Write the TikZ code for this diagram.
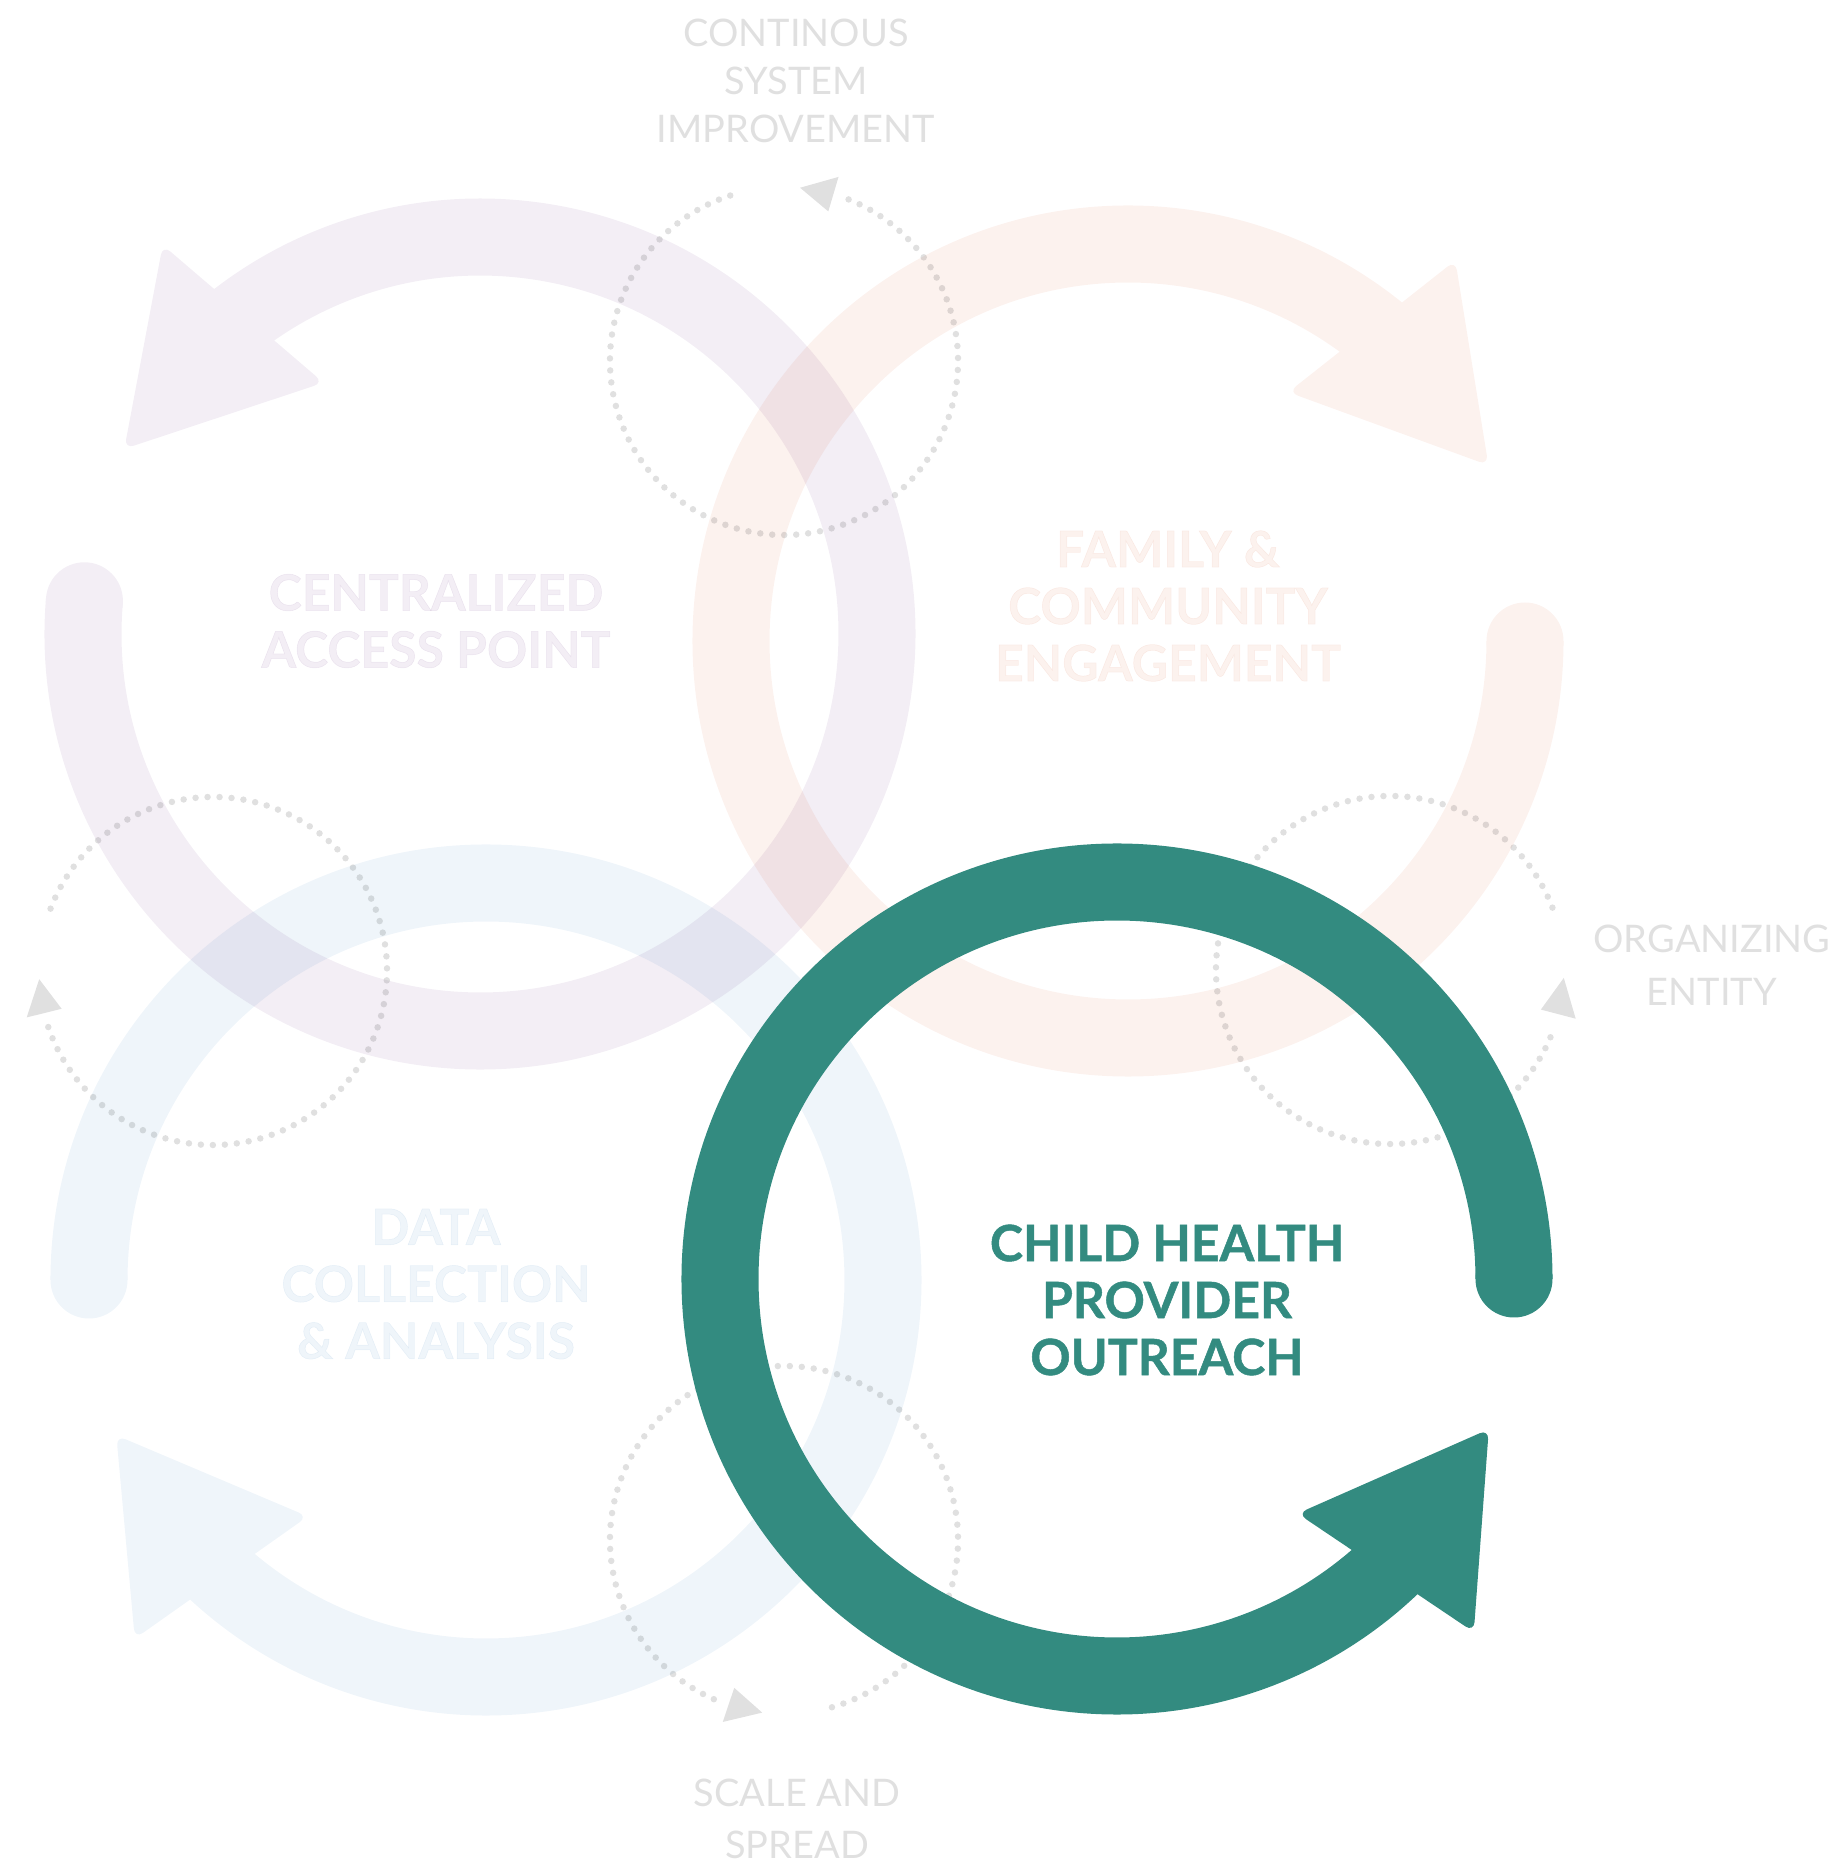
\documentclass[tikz,border=0pt]{standalone}
\usepackage{fontspec}
\setmainfont{Lato}[BoldFeatures={FakeBold=1}]
\definecolor{lilac}{HTML}{F3EEF5}
\definecolor{peach}{HTML}{FCF2EE}
\definecolor{mist}{HTML}{EFF5FA}
\definecolor{teal}{HTML}{338B80}
\definecolor{dotgray}{HTML}{E0E0E0}
\tikzset{
  band/.style={line width=0.77cm, line cap=butt},
  head/.style={rounded corners=0.1cm},
  dots/.style={dotgray, line width=0.065cm, line cap=round, dash pattern=on 0pt off 0.12cm},
  tip/.style={fill=dotgray},
  hub/.style={font=\bfseries\fontsize{14.2}{16.2}\selectfont, align=center},
  stage/.style={text=dotgray, font=\fontsize{10.8}{13.7}\selectfont, align=center}
}
\begin{document}
\begin{tikzpicture}[x=0.01cm, y=0.01cm]
\useasboundingbox (0,0) rectangle (1830,1871);
\begin{scope}[blend mode=multiply]
  \begin{scope}[shift={(480,1237)}, transparency group]
    \fill[lilac] (175.2:397) circle[radius=38.5];
    \draw[band, lilac] (175.2:397) arc[start angle=175.2, end angle=488.5, radius=397];
    \fill[head, lilac] (121.9:296) -- (129.2:502) -- (152.5:401) -- cycle;
  \end{scope}
  \begin{scope}[shift={(1128,1230)}, transparency group]
    \fill[peach] (0:397) circle[radius=38.5];
    \draw[band, peach] (0:397) arc[start angle=0, end angle=-309.5, radius=397];
    \fill[head, peach] (57.2:296) -- (49.3:502) -- (26:401) -- cycle;
  \end{scope}
  \begin{scope}[shift={(486,591)}, transparency group]
    \fill[mist] (180:397) circle[radius=38.5];
    \draw[band, mist] (180:397) arc[start angle=180, end angle=-133.4, radius=397];
    \fill[head, mist] (233:296) -- (225.6:502) -- (202.8:401) -- cycle;
  \end{scope}
  \begin{scope}[shift={(784,1510)}]
    \draw[dots] (108:174) arc[start angle=108, end angle=430, radius=174];
    \fill[tip] (73.5:192) -- (73.5:156) -- (84.7:174) -- cycle;
  \end{scope}
  \begin{scope}[shift={(213,900)}]
    \draw[dots] (159:174) arc[start angle=159, end angle=-163, radius=174];
    \fill[tip] (-166:192) -- (-166:156) -- (-177.3:174) -- cycle;
  \end{scope}
  \begin{scope}[shift={(1390,901)}]
    \draw[dots] (21:174) arc[start angle=21, end angle=341, radius=174];
    \fill[tip] (345.3:192) -- (345.3:156) -- (357.4:174) -- cycle;
  \end{scope}
  \begin{scope}[shift={(784,331)}]
    \draw[dots] (-74:174) arc[start angle=-74, end angle=249, radius=174];
    \fill[tip] (251.4:192) -- (251.4:156) -- (262.8:174) -- cycle;
  \end{scope}
  \node[hub, text=lilac] (access) at (436,1250) {CENTRALIZED\\ACCESS POINT};
  \node[hub, text=peach] (family) at (1168,1265) {FAMILY \&\\COMMUNITY\\ENGAGEMENT};
  \node[hub, text=mist] (data) at (436,587) {DATA\\COLLECTION\\\& ANALYSIS};
\end{scope}
\begin{scope}[shift={(1117,592)}, teal]
  \fill (0:397) circle[radius=38.5];
  \draw[band] (0:397) arc[start angle=0, end angle=314.3, radius=397];
  \fill[head] (307.6:296) -- (315.3:502) -- (338:401) -- cycle;
\end{scope}
\node[hub, text=teal] (outreach) at (1167,571) {CHILD HEALTH\\PROVIDER\\OUTREACH};
\node[stage] (improve) at (796,1790) {CONTINOUS\\SYSTEM\\IMPROVEMENT};
\node[stage, font=\fontsize{10.8}{15.2}\selectfont] (entity) at (1712,906) {ORGANIZING\\ENTITY};
\node[stage, font=\fontsize{10.8}{14.6}\selectfont] (spread) at (797,52) {SCALE AND\\SPREAD};
\end{tikzpicture}
\end{document}
